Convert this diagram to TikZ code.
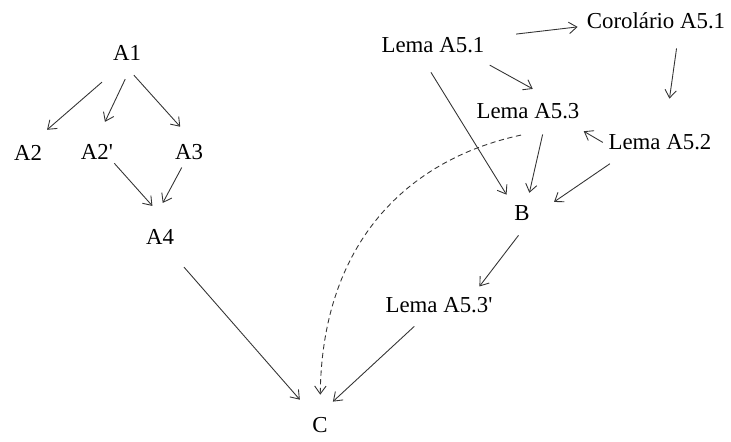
\documentclass[tikz,border=0pt]{standalone}
\usepackage{fontspec}
\setmainfont{Liberation Serif}
\usepackage{tikz}
\usetikzlibrary{arrows.meta}

\begin{document}
\begin{tikzpicture}[x=0.02cm, y=-0.02cm, >={Straight Barb[length=4.5pt,width=6.5pt]},
	etq/.style={inner sep=0pt, font=\fontsize{13}{15}\selectfont},
	seta/.style={->, draw=black!80, line width=0.5pt}]
	\useasboundingbox (0,0) rectangle (731,441);
	% Bloc de gauche
	\node[etq] (A1) at (127,53) {A1};
	\node[etq] (A2) at (28,153) {A2};
	\node[etq] (A2p) at (97,152) {A2\textquotesingle};
	\node[etq] (A3) at (189,152) {A3};
	\node[etq] (A4) at (160,237) {A4};
	\draw[seta, shorten <=18.4pt, shorten >=13.3pt] (A1.266) -- (A2.80);
	\draw[seta, shorten <=11.5pt, shorten >=14pt] (A1.311) -- (A2p.108);
	\draw[seta, shorten <=10.9pt, shorten >=13.2pt] (A1.233) -- (A3.50);
	\draw[seta, shorten <=2.6pt, shorten >=17.7pt] (A2p.331.5) -- (A4.31);
	\draw[seta, shorten <=4.8pt, shorten >=16.9pt] (A3.248) -- (A4.145);
	
	% Bloc de droite
	\node[etq] (L51) at (433,45) {Lema A5.1};
	\node[etq] (C51) at (656,21) {Corolário A5.1};
	\node[etq] (L53) at (528,111) {Lema A5.3};
	\node[etq] (L52) at (660,142) {Lema A5.2};
	\node[etq] (B) at (522,213) {B};
	\node[etq] (L53p) at (439,305) {Lema A5.3\textquotesingle};
	\draw[seta, shorten <=18pt, shorten >=5.1pt] (L51.8) -- (C51.184);
	\draw[seta, shorten <=14.2pt, shorten >=16.5pt] (L51.347) -- (L53.15.6);
	\draw[seta, shorten <=12.9pt, shorten >=8.1pt] (L51.210.7) -- (B.142);
	\draw[seta, shorten <=10.9pt, shorten >=20.3pt] (C51.340.5) -- (L52.61.6);
	\draw[seta, shorten <=3.6pt, shorten >=13.7pt] (L52.184.7) -- (L53.347.5);
	\draw[seta, shorten <=9pt, shorten >=7.2pt] (L53.336.4) -- (B.60.5);
	\draw[seta, shorten <=13.8pt, shorten >=16.6pt] (L52.195.9) -- (B.326.1);
	\draw[seta, shorten <=10.4pt, shorten >=7.5pt] (B.314.2) -- (L53p.14.3);
	
	% Conclusion
	\node[etq] (C) at (320,425) {C};
	\draw[seta, shorten <=16.8pt, shorten >=13.1pt] (A4.300.6) -- (C.122);
	\draw[seta, shorten <=11.2pt, shorten >=12.9pt] (L53p.218.7) -- (C.115.3);
	\draw[seta, dash pattern=on 3pt off 2pt, shorten >=12.7pt]
		([shift={(-7,16)}]L53.south) .. controls (405,160) and (322,245) .. (C.north);
\end{tikzpicture}
\end{document}
